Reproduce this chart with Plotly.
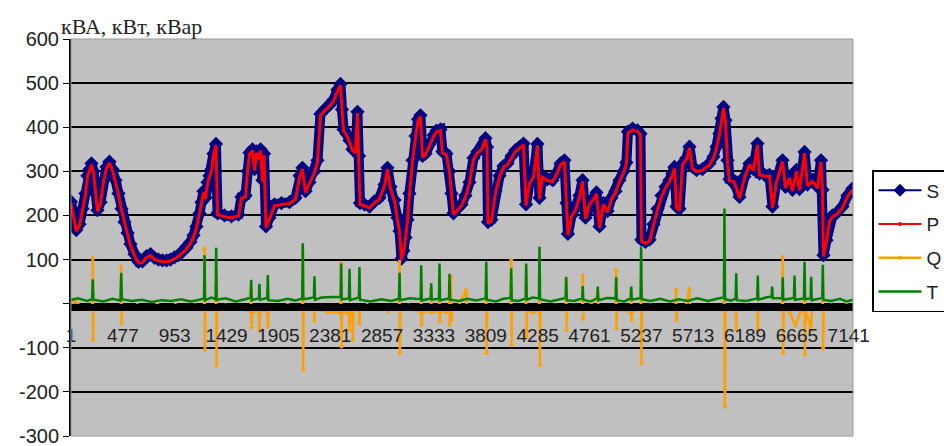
import plotly.graph_objects as go

# ---- data ----
x_ticks = [1, 477, 953, 1429, 1905, 2381, 2857, 3333, 3809, 4285, 4761, 5237, 5713, 6189, 6665, 7141]
y_ticks = [-300, -200, -100, 0, 100, 200, 300, 400, 500, 600]
y_ticktext = ["-300", "-200", "-100", "", "100", "200", "300", "400", "500", "600"]

s_idx = [1, 24, 49, 79, 107, 134, 152, 171, 189, 208,
         226, 244, 272, 299, 327, 354, 382, 410, 437, 465,
         492, 520, 547, 584, 621, 657, 694, 731, 768, 804,
         841, 878, 914, 951, 988, 1025, 1061, 1098, 1126, 1153,
         1181, 1199, 1217, 1236, 1254, 1272, 1291, 1309, 1332, 1346,
         1410, 1474, 1539, 1566, 1603, 1621, 1640, 1667, 1686, 1704,
         1722, 1741, 1759, 1773, 1791, 1823, 1869, 1933, 2007, 2062,
         2099, 2126, 2154, 2190, 2236, 2264, 2291, 2337, 2374, 2411,
         2447, 2475, 2489, 2503, 2530, 2558, 2585, 2613, 2631, 2645,
         2654, 2695, 2741, 2787, 2833, 2879, 2906, 2934, 2971, 2998,
         3017, 3035, 3053, 3072, 3090, 3108, 3136, 3164, 3187, 3209,
         3228, 3255, 3292, 3329, 3356, 3393, 3411, 3448, 3476, 3494,
         3512, 3549, 3586, 3622, 3659, 3696, 3733, 3769, 3806, 3820,
         3829, 3861, 3898, 3935, 3971, 4008, 4045, 4081, 4118, 4155,
         4178, 4210, 4247, 4283, 4302, 4329, 4375, 4421, 4458, 4495,
         4531, 4550, 4563, 4596, 4632, 4669, 4697, 4724, 4761, 4798,
         4825, 4853, 4889, 4926, 4963, 5000, 5036, 5073, 5100, 5114,
         5156, 5201, 5229, 5238, 5275, 5312, 5348, 5385, 5422, 5459,
         5495, 5523, 5541, 5560, 5587, 5615, 5651, 5679, 5706, 5743,
         5798, 5862, 5899, 5927, 5954, 5973, 5991, 6009, 6028, 6046,
         6083, 6110, 6138, 6184, 6230, 6266, 6303, 6321, 6367, 6413,
         6441, 6478, 6533, 6560, 6597, 6624, 6661, 6689, 6735, 6762,
         6808, 6854, 6886, 6900, 6909, 6937, 6964, 6992, 7028, 7083,
         7129, 7175]

s_val = [231, 200, 167, 180, 215, 250, 290, 305, 318, 300,
         250, 212, 230, 280, 310, 322, 305, 280, 250, 215,
         185, 160, 135, 112, 95, 96, 108, 112, 104, 100,
         98, 98, 100, 105, 110, 118, 127, 140, 155, 175,
         205, 230, 255, 240, 275, 290, 305, 340, 362, 205,
         200, 198, 202, 242, 245, 300, 342, 350, 305, 345,
         330, 350, 280, 340, 175, 195, 225, 228, 230, 240,
         290, 308, 255, 275, 300, 325, 430, 442, 450, 462,
         485, 498, 440, 395, 385, 370, 350, 345, 435, 335,
         228, 225, 220, 232, 240, 270, 308, 265, 235, 195,
         165, 102, 120, 150, 190, 250, 325, 380, 418, 427,
         335, 340, 362, 382, 392, 395, 345, 340, 300, 250,
         205, 215, 225, 245, 275, 330, 345, 352, 375, 355,
         185, 190, 255, 290, 312, 318, 335, 348, 355, 363,
         225, 275, 290, 362, 240, 290, 282, 280, 295, 318,
         325, 228, 158, 200, 215, 245, 280, 195, 228, 240,
         252, 175, 228, 210, 240, 255, 280, 300, 320, 390,
         397, 393, 385, 145, 140, 145, 180, 215, 245, 265,
         280, 295, 310, 220, 215, 318, 330, 356, 310, 303,
         305, 318, 333, 356, 386, 420, 446, 416, 325, 282,
         280, 265, 242, 288, 318, 305, 363, 295, 292, 292,
         220, 280, 325, 265, 288, 258, 303, 260, 344, 270,
         280, 265, 325, 258, 110, 144, 190, 200, 205, 220,
         245, 261]

p_val = [228, 197, 164, 177, 212, 247, 287, 302, 315, 297,
         247, 209, 227, 277, 307, 319, 302, 277, 247, 212,
         182, 157, 132, 109, 92, 93, 105, 109, 101, 97,
         95, 95, 97, 102, 107, 115, 124, 137, 152, 172,
         202, 227, 252, 237, 272, 287, 302, 337, 359, 202,
         197, 195, 199, 239, 242, 297, 339, 347, 302, 342,
         327, 347, 277, 337, 172, 192, 222, 225, 227, 237,
         287, 305, 252, 272, 297, 322, 427, 439, 447, 459,
         482, 495, 437, 392, 382, 367, 347, 342, 432, 332,
         225, 222, 217, 229, 237, 267, 305, 262, 232, 192,
         162, 100, 117, 147, 187, 247, 322, 377, 415, 424,
         332, 337, 359, 379, 389, 392, 342, 337, 297, 247,
         202, 212, 222, 242, 272, 327, 342, 349, 372, 352,
         182, 187, 252, 287, 309, 315, 332, 345, 352, 360,
         222, 272, 287, 359, 237, 287, 279, 277, 292, 315,
         322, 225, 155, 197, 212, 242, 277, 192, 225, 237,
         249, 172, 225, 207, 237, 252, 277, 297, 317, 387,
         394, 390, 382, 142, 137, 142, 177, 212, 242, 262,
         277, 292, 307, 217, 212, 315, 327, 353, 307, 300,
         302, 315, 330, 353, 383, 417, 443, 413, 322, 279,
         277, 262, 239, 285, 315, 302, 360, 292, 289, 289,
         217, 277, 322, 262, 285, 255, 300, 257, 341, 267,
         277, 262, 322, 255, 107, 141, 187, 197, 202, 217,
         242, 258]

q_points = [(1, -5), (40, 5), (100, -8), (160, -12), (196, -10), (201, 103), (204, -82), (208, -12),
            (280, -6), (350, -14), (420, -10), (457, -8), (462, 84), (465, -44), (470, -12), (540, -6),
            (610, -3), (700, -8), (790, -2), (880, -6), (960, -3), (1050, -7), (1140, -4), (1222, -8),
            (1227, 125), (1230, -105), (1235, -10), (1290, -5), (1329, -14), (1334, 60), (1337, -139),
            (1342, -12), (1420, -4), (1500, -8), (1590, -14), (1650, -18), (1655, 30), (1658, -54),
            (1663, -20), (1726, -16), (1731, -60), (1736, -18), (1803, -15), (1808, -52), (1813, -12),
            (1900, -6), (1990, -3), (2070, -8), (2124, -6), (2129, 115), (2132, -150), (2137, -10),
            (2200, -6), (2231, -12), (2236, -38), (2241, -10), (2300, -14), (2360, -20), (2420, -18),
            (2476, -22), (2481, 91), (2484, -97), (2489, -18), (2530, -20), (2553, -14), (2558, -60),
            (2563, -18), (2585, -16), (2590, -82), (2595, -16), (2644, -12), (2649, -45), (2654, -8),
            (2720, -3), (2800, -6), (2860, -10), (2904, -5), (2909, -18), (2914, -6), (2960, -8),
            (3012, -10), (3017, 95), (3020, -112), (3025, -12), (3100, -4), (3160, -15), (3211, -18),
            (3216, 40), (3219, -48), (3224, -20), (3270, -16), (3303, -18), (3308, 30), (3313, -20),
            (3350, -18), (3379, -16), (3384, 50), (3387, -40), (3392, -15), (3440, -20), (3471, -15),
            (3476, 40), (3479, -48), (3484, -12), (3488, -10), (3491, 61), (3494, -37), (3499, -8),
            (3560, -4), (3629, 31), (3634, -6), (3700, -10), (3760, -5), (3808, -14), (3813, 40),
            (3816, -112), (3821, -12), (3880, -4), (3940, -10), (4000, -6), (4037, -12), (4042, 99),
            (4045, -94), (4050, -10), (4110, -14), (4175, -10), (4180, 60), (4183, -75), (4188, -14),
            (4240, -20), (4297, -16), (4302, 60), (4305, -139), (4310, -14), (4380, -8), (4450, -4),
            (4500, -14), (4542, -12), (4547, 55), (4550, -60), (4555, -10), (4620, -4), (4694, -8),
            (4699, 64), (4702, -35), (4707, -8), (4770, -3), (4837, 20), (4842, -5), (4920, -8),
            (5001, -10), (5006, 76), (5009, -56), (5014, -12), (5080, -15), (5139, -20), (5144, 25),
            (5147, -37), (5152, -18), (5230, -12), (5235, 50), (5238, -135), (5243, -12), (5320, -4),
            (5410, -8), (5480, -10), (5552, -6), (5557, 31), (5560, -37), (5565, -8), (5640, -12),
            (5679, 34), (5684, -10), (5750, -14), (5850, -12), (5930, -8), (5995, -10), (6000, 60),
            (6002, -194), (6004, -233), (6008, -10), (6060, -6), (6103, -10), (6108, -60), (6113, -8),
            (6200, -4), (6301, -8), (6306, -60), (6311, -8), (6380, -14), (6438, -10), (6530, -16),
            (6535, 106), (6538, -112), (6543, -12), (6600, -20), (6650, -50), (6700, -18), (6730, -15),
            (6735, 40), (6738, -116), (6743, -14), (6796, -60), (6801, -10), (6898, -12), (6903, 30),
            (6906, -101), (6911, -10), (6980, -4), (7060, -8), (7120, -3), (7178, -6)]

t_points = [(1, 8), (60, 12), (150, 6), (195, 10), (201, 55), (207, 9), (300, 5), (380, 11), (455, 7),
            (462, 70), (468, 10), (560, 6), (650, 9), (740, 4), (830, 8), (920, 6), (1010, 10), (1100, 5),
            (1180, 9), (1222, 12), (1227, 110), (1232, 8), (1290, 14), (1329, 10), (1334, 127), (1339, 9),
            (1420, 12), (1510, 5), (1600, 10), (1650, 14), (1655, 54), (1660, 8), (1726, 12), (1731, 45),
            (1736, 9), (1803, 13), (1808, 65), (1813, 8), (1900, 6), (1990, 11), (2060, 7), (2124, 12),
            (2129, 137), (2134, 10), (2231, 14), (2236, 62), (2241, 9), (2300, 14), (2400, 15), (2476, 15),
            (2481, 91), (2486, 10), (2553, 12), (2558, 79), (2563, 8), (2644, 14), (2649, 83), (2654, 9),
            (2750, 5), (2850, 10), (2940, 6), (3012, 11), (3017, 70), (3022, 8), (3110, 12), (3211, 10),
            (3216, 87), (3221, 7), (3303, 12), (3308, 46), (3313, 9), (3379, 11), (3384, 91), (3389, 8),
            (3471, 12), (3476, 68), (3481, 9), (3560, 6), (3640, 11), (3720, 7), (3808, 12), (3813, 95),
            (3818, 9), (3900, 5), (3970, 11), (4037, 13), (4042, 80), (4047, 8), (4110, 6), (4175, 12),
            (4180, 91), (4185, 9), (4240, 14), (4297, 12), (4302, 129), (4307, 10), (4400, 5), (4480, 10),
            (4542, 13), (4547, 61), (4552, 8), (4620, 6), (4694, 12), (4699, 40), (4704, 9), (4770, 5),
            (4832, 12), (4837, 39), (4842, 8), (4920, 13), (5001, 12), (5006, 60), (5011, 8), (5080, 5),
            (5139, 12), (5144, 39), (5149, 9), (5230, 13), (5235, 129), (5240, 10), (5320, 6), (5410, 11),
            (5500, 5), (5580, 10), (5660, 6), (5750, 12), (5850, 6), (5930, 11), (5995, 14), (6000, 216),
            (6005, 10), (6060, 7), (6103, 12), (6108, 69), (6113, 8), (6200, 6), (6301, 12), (6306, 64),
            (6311, 9), (6380, 14), (6433, 16), (6438, 39), (6443, 12), (6530, 12), (6535, 60), (6540, 9),
            (6638, 13), (6643, 64), (6648, 9), (6730, 12), (6735, 95), (6740, 10), (6791, 12), (6796, 61),
            (6801, 8), (6898, 13), (6903, 88), (6908, 9), (6980, 6), (7060, 11), (7120, 5), (7178, 9)]

q_idx = [p[0] for p in q_points]
q_val = [p[1] for p in q_points]
t_idx = [p[0] for p in t_points]
t_val = [p[1] for p in t_points]

# ---- figure ----
NAVY = "#000080"
RED = "#FF0000"
ORANGE = "#FFA000"
GREEN = "#008000"
FONT = "Liberation Sans, Arial, sans-serif"

fig = go.Figure()
fig.add_trace(go.Scatter(x=s_idx, y=s_val, mode="lines+markers", name="S",
                         line=dict(color=NAVY, width=10),
                         marker=dict(symbol="diamond", size=11, color=NAVY),
                         showlegend=False, hoverinfo="skip"))
fig.add_trace(go.Scatter(x=s_idx, y=p_val, mode="lines", name="P",
                         line=dict(color=RED, width=3), showlegend=False))
fig.add_trace(go.Scatter(x=q_idx, y=q_val, mode="lines+markers", name="Q",
                         line=dict(color=ORANGE, width=2.5), marker=dict(size=4, color=ORANGE),
                         legendgroup="q", legendrank=3))
fig.add_trace(go.Scatter(x=t_idx, y=t_val, mode="lines", name="T",
                         line=dict(color=GREEN, width=2.5),
                         legendgroup="t", legendrank=4))
# legend-only entries with the thin line look of the original legend
fig.add_trace(go.Scatter(x=[None], y=[None], mode="lines+markers", name="S",
                         line=dict(color=NAVY, width=2),
                         marker=dict(symbol="diamond", size=10, color=NAVY),
                         legendgroup="s", legendrank=1))
fig.add_trace(go.Scatter(x=[None], y=[None], mode="lines+markers", name="P",
                         line=dict(color=RED, width=2), marker=dict(size=4, color=RED),
                         legendgroup="p", legendrank=2))

fig.update_layout(
    width=944, height=446,
    margin=dict(l=71, r=91, t=39, b=10),
    paper_bgcolor="white", plot_bgcolor="#C0C0C0",
    font=dict(family=FONT, size=19, color="#222"),
    xaxis=dict(range=[1, 7180], anchor="free", position=1/3,
               tickmode="array", tickvals=x_ticks, ticktext=[str(v) for v in x_ticks],
               showline=True, linecolor="black", linewidth=1,
               ticks="outside", ticklen=6, tickcolor="black",
               showgrid=False, zeroline=False, ticklabelstandoff=9,
               ticklabeloverflow="allow",
               tickfont=dict(family=FONT, size=19, color="#222"),
               minor=dict(tickmode="linear", tick0=1, dtick=4, ticks="outside",
                          ticklen=6, tickcolor="black", tickwidth=1, showgrid=False),
               automargin=False),
    yaxis=dict(range=[-300, 600], tickmode="array", tickvals=y_ticks, ticktext=y_ticktext,
               showline=True, linecolor="black", linewidth=2,
               ticks="outside", ticklen=6, tickcolor="black",
               showgrid=True, gridcolor="black", gridwidth=1.5, zeroline=False,
               ticklabelstandoff=0, ticklabeloverflow="allow",
               tickfont=dict(family=FONT, size=20, color="#222"),
               automargin=False),
    legend=dict(xref="container", yref="container",
                x=872 / 944, xanchor="left", y=1 - 170 / 446, yanchor="top",
                bgcolor="white", bordercolor="black", borderwidth=1.5,
                font=dict(family=FONT, size=19, color="#222"),
                itemwidth=43, tracegroupgap=6),
    annotations=[dict(text="кВА, кВт, кВар", xref="paper", yref="paper",
                      x=(59 - 71) / 782, y=1 + (39 - 26) / 397, xanchor="left", yanchor="middle",
                      showarrow=False, font=dict(family="Liberation Serif, Times New Roman, serif",
                                                 size=22, color="#222"))],
    shapes=[dict(type="rect", xref="paper", yref="paper", x0=0, x1=1, y0=0, y1=1,
                 line=dict(color="#9a9a9a", width=1), layer="above")],
    showlegend=True,
)

fig.write_html("out.html", config={"displayModeBar": False},
               post_script="document.body.style.margin='0px';document.body.style.overflow='hidden';")
